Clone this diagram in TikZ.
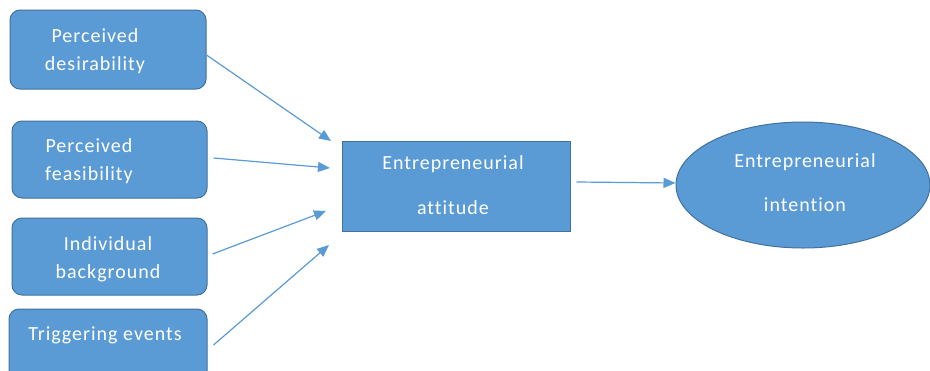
\documentclass[tikz,border=0pt]{standalone}
\usepackage{fontspec}
\setmainfont[Ligatures=NoCommon, LetterSpace=5]{Carlito}
\usetikzlibrary{arrows.meta,shapes.geometric}
\definecolor{boxfill}{HTML}{5B9BD5}
\definecolor{boxline}{HTML}{41719C}
\definecolor{arrowblue}{HTML}{5B9BD5}
\tikzset{
  factor/.style={draw=boxline, line width=1pt, fill=boxfill, rounded corners=10pt},
  centerbox/.style={draw=boxline, line width=1pt, fill=boxfill},
  label/.style={text=white, font=\fontsize{20}{28}\selectfont, align=center, inner sep=0pt, anchor=center},
  link/.style={draw=arrowblue, line width=1.2pt, -{Triangle[length=12pt,width=10pt]}}
}
\begin{document}
\begin{tikzpicture}[x=1pt,y=-1pt]
  \useasboundingbox (0,0) rectangle (930,370);
  \clip (0,0) rectangle (930,370);
  \fill[white] (0,0) rectangle (930,370);

  % input factors
  \node[factor, minimum width=196pt, minimum height=79pt] (desir) at (108,49.5) {};
  \node[factor, minimum width=195pt, minimum height=77pt] (feas) at (109.5,159.5) {};
  \node[factor, minimum width=195pt, minimum height=77pt] (backg) at (109.5,256.5) {};
  \node[factor, minimum width=198pt, minimum height=72pt] (trig) at (108,345) {};

  \node[label] (tdesir) at (95,51) {Perceived\\desirability};
  \node[label] (tfeas) at (89,161) {Perceived\\feasibility};
  \node[label] (tbackg) at (108,259) {Individual\\background};
  \node[label] (ttrig) at (105,335) {Triggering events};

  % attitude and intention
  \node[centerbox, minimum width=228pt, minimum height=90pt] (att) at (456,186) {};
  \node[label, font=\fontsize{20}{45}\selectfont] (tatt) at (453,185) {Entrepreneurial\\attitude};

  \node[ellipse, draw=boxline, line width=1pt, fill=boxfill, inner sep=0pt,
        minimum width=254pt, minimum height=126pt] (intent) at (803,185) {};
  \node[label, font=\fontsize{20}{44}\selectfont] (tint) at (805,183) {Entrepreneurial\\intention};

  % arrow end points in front of the attitude box
  \coordinate (e1) at (331,141);
  \coordinate (e2) at (330,168);
  \coordinate (e3) at (326,211);
  \coordinate (e4) at (329,245);

  \draw[link] (desir.east |- 0,55) -- (e1);
  \draw[link] ([xshift=6pt]feas.east |- 0,158) -- (e2);
  \draw[link] ([xshift=5pt]backg.east |- 0,254) -- (e3);
  \draw[link] ([xshift=6pt]trig.east |- 0,345) -- (e4);
  \draw[link] ([xshift=6pt]att.east |- 0,182) -- (intent.west |- 0,183);
\end{tikzpicture}
\end{document}
